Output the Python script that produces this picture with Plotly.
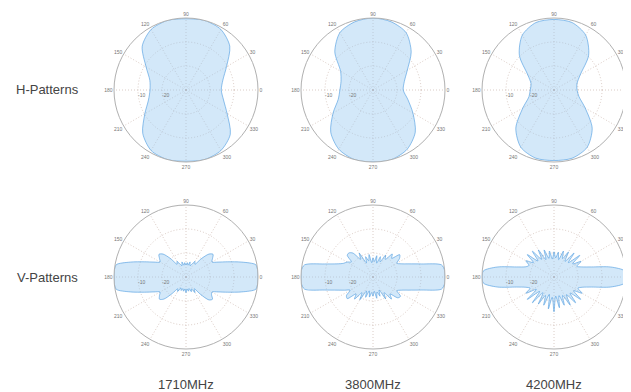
import plotly.graph_objects as go

# ---------------- data ----------------
freq_labels = ["1710MHz", "3800MHz", "4200MHz"]
row_labels = ["H-Patterns", "V-Patterns"]
angle_ticks = list(range(0, 360, 30))

# H-plane patterns, dB, every 15 degrees from 0
h_angles = list(range(0, 360, 15))
h_1710 = [-15.3, -14.1, -10.5, -4.2, -0.9, 0, -0.3, 0, -0.9, -4.2, -10.8, -14.4,
          -15, -13.8, -10.2, -4.5, -0.9, 0, -0.3, 0, -0.9, -3.9, -10.2, -13.8]
h_3800 = [-17.4, -16.5, -13.5, -7.5, -2.4, -0.6, 0, -0.6, -2.4, -7.5, -14.4, -16.2,
          -16.2, -15, -10.8, -5.1, -1.5, 0, 0, 0, -1.5, -5.1, -10.8, -15]
h_4200 = [-20.4, -20.1, -17.4, -9.6, -3.6, -0.9, -0.6, -0.9, -3.6, -9.6, -17.4, -20.1,
          -20.1, -19.2, -15, -7.5, -2.4, -0.6, -0.6, -0.6, -2.4, -7.5, -15, -19.2]

# V-plane patterns, dB, every 5 degrees from 0
v_angles = list(range(0, 360, 5))
v_1710 = [0, 0, -0.5, -6, -11.5, -15.3, -17.5, -16.5, -15.3, -16.5, -20, -23.5,
          -22.5, -24, -25, -23.5, -25, -24, -25, -24, -25, -23.5, -25, -24,
          -22.5, -23.5, -20, -16.5, -15.3, -16.5, -17.5, -15.3, -11.5, -6, -0.5, 0,
          0, 0, -0.5, -6, -11.5, -15.3, -17.5, -16.5, -15.6, -17, -21, -24,
          -23, -25, -24, -25, -24, -25, -23.5, -25, -24, -25, -23.5, -24.5,
          -22.5, -24, -20.5, -16.5, -15.6, -17, -17.5, -15.3, -11.5, -6, -0.5, 0]
v_3800 = [0, 0, -1, -9, -14, -17, -18.5, -16.5, -15.5, -19, -17.5, -21,
          -19.5, -23, -21, -24, -21, -23.5, -22, -24, -20.5, -23, -21, -23.5,
          -18.5, -21, -17, -15.8, -16, -19, -17.5, -16.5, -14, -9, -1, 0,
          0, 0, -1, -9, -14, -17, -19, -16.5, -16, -20, -18, -22,
          -19, -23.5, -21, -24, -21.5, -23.5, -22, -24, -21, -23.5, -21.5, -24,
          -19.5, -22, -18, -20, -16.5, -16, -18.5, -17, -14, -9, -1, 0]
v_4200 = [0, -0.5, -6, -13.8, -17.7, -19.5, -17, -20.5, -16, -21.5, -17, -22,
          -18, -21.5, -18.5, -22.5, -19.5, -22, -19.5, -22.5, -19, -22, -18, -22,
          -17, -21, -16, -20.5, -15.5, -19.5, -16.5, -18.5, -17.5, -13.8, -6, -0.5,
          0, -0.5, -6, -13.8, -17.5, -19, -16.5, -21, -15.5, -21.5, -16, -22,
          -17, -21.5, -17.5, -22.5, -16.5, -21.5, -15.5, -22, -17, -22, -17.5, -21.5,
          -16.5, -21, -16, -20.5, -15.5, -20, -16.5, -19, -17.5, -13.8, -6, -0.5]

patterns = [
    (h_angles, h_1710), (h_angles, h_3800), (h_angles, h_4200),
    (v_angles, v_1710), (v_angles, v_3800), (v_angles, v_4200),
]

db_range = [-30, 0]
radial_ticks = [-20, -10]

# ---------------- layout geometry (page pixels; page body has an 8px margin) ----------------
PAGE_W, PAGE_H = 631, 392
OFF = 8
W, H = PAGE_W - OFF, PAGE_H - OFF
R = 72
col_cx = [186 - OFF, 373 - OFF, 554 - OFF]
row_cy = [90 - OFF, 277 - OFF]
label_x = 47 - OFF
bottom_y = 384 - OFF

fig = go.Figure()
layout = dict(
    width=W, height=H, margin=dict(l=0, r=0, t=0, b=0),
    paper_bgcolor="white", plot_bgcolor="white", showlegend=False,
    font=dict(family="Liberation Sans, Arial, sans-serif"),
)

grid_col = "rgba(195,170,160,0.6)"
for i, (ang, vals) in enumerate(patterns):
    row, col = divmod(i, 3)
    cx, cy = col_cx[col], row_cy[row]
    name = "polar" if i == 0 else f"polar{i+1}"
    fig.add_trace(go.Scatterpolar(
        r=list(vals) + [vals[0]], theta=list(ang) + [ang[0]],
        mode="lines", fill="toself",
        fillcolor="rgba(150,200,240,0.42)",
        line=dict(color="rgba(80,158,225,0.8)", width=0.8, shape="spline", smoothing=0.8),
        subplot=name, hoverinfo="skip",
    ))
    layout[name] = dict(
        domain=dict(x=[(cx - R) / W, (cx + R) / W],
                    y=[(H - cy - R) / H, (H - cy + R) / H]),
        bgcolor="white",
        radialaxis=dict(range=db_range, tickvals=radial_ticks,
                        ticktext=[str(t) for t in radial_ticks],
                        angle=180, tickangle=180, side="counterclockwise",
                        showline=False, ticks="",
                        gridcolor=grid_col, griddash="1px,2px", gridwidth=0.8,
                        tickfont=dict(size=5, color="#777")),
        angularaxis=dict(rotation=0, direction="counterclockwise",
                         tickmode="array", tickvals=angle_ticks,
                         ticktext=[str(a) for a in angle_ticks],
                         showline=True, linecolor="#b0b0b0", linewidth=1,
                         ticks="", gridcolor=grid_col, griddash="1px,2px", gridwidth=0.8,
                         tickfont=dict(size=5, color="#777")),
    )

ann = []
for j, lab in enumerate(row_labels):
    ann.append(dict(text=lab, x=label_x / W, y=(H - row_cy[j]) / H, xref="paper", yref="paper",
                    showarrow=False, xanchor="center", yanchor="middle",
                    font=dict(size=13, color="#444")))
for j, lab in enumerate(freq_labels):
    ann.append(dict(text=lab, x=col_cx[j] / W, y=(H - bottom_y) / H, xref="paper", yref="paper",
                    showarrow=False, xanchor="center", yanchor="middle",
                    font=dict(size=13, color="#444")))
layout["annotations"] = ann
fig.update_layout(**layout)
fig.write_html("out.html")
